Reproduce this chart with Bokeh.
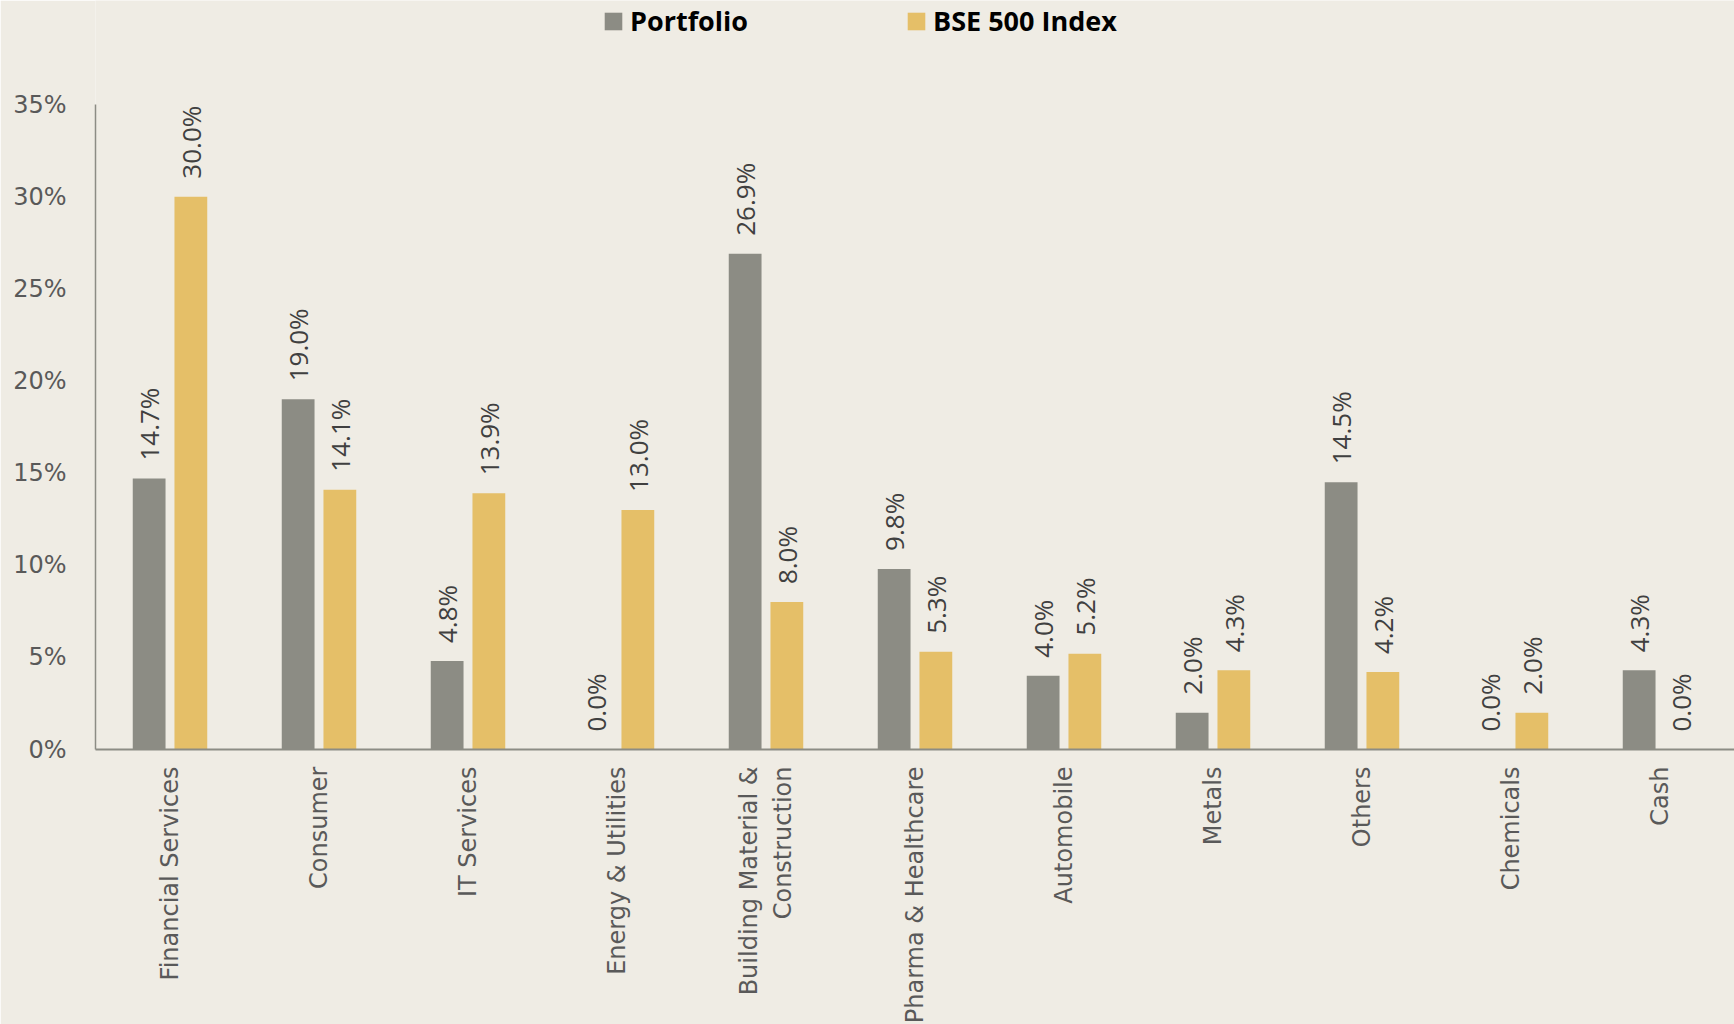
import math
from bokeh.plotting import figure
from bokeh.models import (ColumnDataSource, FactorRange, Legend, LegendItem, FixedTicker,
                          Range1d)
from bokeh.transform import dodge
from bokeh.core.properties import value
from bokeh.embed import file_html
from bokeh.resources import INLINE

categories = ["Financial Services", "Consumer", "IT Services", "Energy & Utilities",
              "Building Material & Construction", "Pharma & Healthcare", "Automobile",
              "Metals", "Others", "Chemicals", "Cash"]
portfolio = [14.7, 19.0, 4.8, 0.0, 26.9, 9.8, 4.0, 2.0, 14.5, 0.0, 4.3]
bse500 = [30.0, 14.1, 13.9, 13.0, 8.0, 5.3, 5.2, 4.3, 4.2, 2.0, 0.0]
series_names = ["Portfolio", "BSE 500 Index"]
y_ticks = [0, 5, 10, 15, 20, 25, 30, 35]
y_tick_labels = ["0%", "5%", "10%", "15%", "20%", "25%", "30%", "35%"]
# how the long category is wrapped on the axis
wrap_map = {"Building Material & Construction": "Building Material &\nConstruction"}

BG = "#EFECE4"
GRAY = "#8C8C84"
GOLD = "#E5BF68"
AXIS_FONT = "DejaVu Sans"
AXIS_SIZE = "24px"
AXIS_COLOR = "#595959"

# layout: axis area 0..35 occupies 645px, the frame extends up to the page top
AXIS_PX = 645
FRAME_PX = 749
y_top = y_ticks[-1] * FRAME_PX / AXIS_PX

factors = [wrap_map.get(c, c) for c in categories]

src = ColumnDataSource(dict(
    cat=factors,
    portfolio=portfolio,
    bse=bse500,
    p_lab=[f"{v:.1f}%" for v in portfolio],
    b_lab=[f"{v:.1f}%" for v in bse500],
))

p = figure(x_range=FactorRange(*factors, range_padding=0),
           y_range=Range1d(0, y_top),
           frame_width=1639, frame_height=FRAME_PX,
           min_border_left=95, min_border_right=0, min_border_top=0, min_border_bottom=275,
           output_backend="svg", toolbar_location=None)

p.background_fill_color = BG
p.border_fill_color = BG
p.outline_line_color = None
p.grid.grid_line_color = None

r1 = p.vbar(x=dodge("cat", -0.14, range=p.x_range), top="portfolio", width=0.22,
            source=src, fill_color=GRAY, line_color=None)
r2 = p.vbar(x=dodge("cat", 0.14, range=p.x_range), top="bse", width=0.22,
            source=src, fill_color=GOLD, line_color=None)

common = dict(angle=math.pi / 2, text_align="left", text_baseline="middle", y_offset=-18,
              text_font=value("Open Sans"), text_font_size="26px", text_color="#404040",
              source=src)
p.text(x=dodge("cat", -0.14, range=p.x_range), y="portfolio", text="p_lab", **common)
p.text(x=dodge("cat", 0.14, range=p.x_range), y="bse", text="b_lab", **common)

# y axis
p.yaxis.ticker = FixedTicker(ticks=y_ticks)
p.yaxis.bounds = (y_ticks[0], y_ticks[-1])
p.yaxis.major_label_overrides = {t: l for t, l in zip(y_ticks, y_tick_labels)}
p.yaxis.major_tick_line_color = None
p.yaxis.major_tick_out = 0
p.yaxis.major_tick_in = 0
p.yaxis.minor_tick_line_color = None
p.yaxis.axis_line_color = GRAY
p.yaxis.axis_line_width = 1.5
p.yaxis.major_label_standoff = 29
p.yaxis.major_label_text_font = AXIS_FONT
p.yaxis.major_label_text_font_size = AXIS_SIZE
p.yaxis.major_label_text_color = AXIS_COLOR

# x axis
p.xaxis.major_label_orientation = math.pi / 2
p.xaxis.major_tick_line_color = None
p.xaxis.major_tick_out = 0
p.xaxis.major_tick_in = 0
p.xaxis.minor_tick_line_color = None
p.xaxis.axis_line_color = GRAY
p.xaxis.axis_line_width = 2
p.xaxis.major_label_standoff = 17
p.xaxis.major_label_text_font = AXIS_FONT
p.xaxis.major_label_text_font_size = AXIS_SIZE
p.xaxis.major_label_text_color = AXIS_COLOR

legend = Legend(items=[LegendItem(label=series_names[0], renderers=[r1]),
                       LegendItem(label=series_names[1], renderers=[r2])],
                orientation="horizontal", location=(507, 710),
                label_text_font="Open Sans", label_text_font_style="bold",
                label_text_font_size="27px", label_text_color="black",
                background_fill_alpha=0, border_line_alpha=0, padding=0, margin=0,
                spacing=157, label_standoff=6, label_height=26,
                glyph_height=22, glyph_width=22)
p.add_layout(legend)

open("out.html", "w").write(file_html(p, INLINE))
